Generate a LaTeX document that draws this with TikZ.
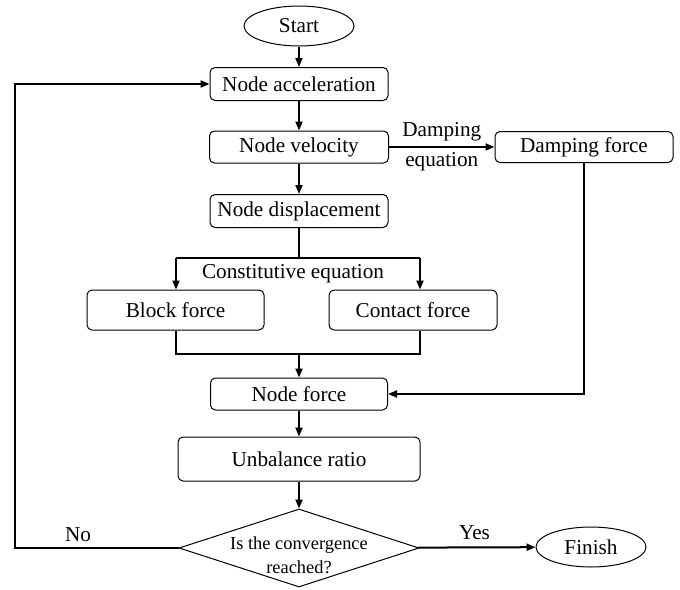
\documentclass[tikz,border=0pt]{standalone}
\usepackage{fontspec}
\setmainfont{Liberation Serif}
\usepackage{tikz}
\usetikzlibrary{arrows.meta,shapes.geometric}

\tikzset{
  box/.style={draw,rounded corners=2.5pt,line width=0.5pt,inner sep=0pt,font=\fontsize{10.6}{12}\selectfont},
  term/.style={draw,ellipse,line width=0.5pt,inner sep=0pt,minimum width=55pt,minimum height=20pt,font=\fontsize{10.6}{12}\selectfont},
  decision/.style={draw,diamond,line width=0.5pt,inner sep=0pt,shape aspect=3.08,minimum width=120pt,minimum height=39pt},
  flow/.style={line width=1pt,-{Triangle[length=4.5pt,width=3.5pt]}},
  link/.style={line width=1pt}
}

\begin{document}
\begin{tikzpicture}[x=0.5pt,y=-0.5pt]
		\useasboundingbox (0,0) rectangle (680,589);
		\node[term] (start) at (299,26) {Start};
		\node[box,minimum width=89pt,minimum height=16.5pt] (acc) at (299,84) {Node acceleration};
		\node[box,minimum width=89.5pt,minimum height=16pt] (vel) at (299,147) {Node velocity};
		\node[box,minimum width=89pt,minimum height=16.5pt] (disp) at (299,211) {Node displacement};
		\node[box,minimum width=89pt,minimum height=15.5pt] (damp) at (584,147) {Damping force};
		\node[box,minimum width=88.5pt,minimum height=20pt] (block) at (175.5,310) {Block force};
		\node[box,minimum width=84pt,minimum height=20pt] (contact) at (413,310) {Contact force};
		\node[box,minimum width=88.5pt,minimum height=16pt] (nforce) at (299,394) {Node force};
		\node[box,minimum width=121pt,minimum height=22pt] (unbal) at (299,459) {Unbalance ratio};
		\node[decision,label={[align=center,font=\fontsize{9.2}{12}\selectfont,yshift=-3.5pt]center:Is the convergence\\reached?}] (conv) at (299,548) {};
		\node[term] (finish) at (591,547) {Finish};
		%
		\coordinate (split) at (299,258);
		\coordinate (splitL) at (176,258);
		\coordinate (splitR) at (420,258);
		\coordinate (mergeL) at (176,354);
		\coordinate (mergeR) at (420,354);
		\coordinate (merge) at (299,354);
		\coordinate (dampC) at (584,394);
		\coordinate (loopB) at (15,548);
		\coordinate (loopT) at (15,84);
		%
		\path[font=\fontsize{10.6}{12}\selectfont]
		(start) edge[flow] (acc)
		(acc) edge[flow] (vel)
		(vel) edge[flow] (disp)
		(vel) edge[flow] node[above=-1pt]{Damping} node[below=-1pt]{equation} (damp)
		(merge) edge[flow] (nforce)
		(nforce) edge[flow] (unbal)
		(unbal) edge[flow] (conv)
		(conv) edge[flow] node[above,pos=0.48]{Yes} (finish);
		%
		\draw[link] (disp.south) -- (split);
		\draw[link] (splitL) -- (splitR);
		\draw[flow] (splitL) -- (splitL |- block.north);
		\draw[flow] (splitR) -- (splitR |- contact.north);
		\node[font=\fontsize{10.6}{12}\selectfont] (const) at (293,274) {Constitutive equation};
		\draw[link] (block.south -| mergeL) -- (mergeL) -- (mergeR) -- (contact.south -| mergeR);
		\draw[flow] (damp.south) -- (dampC) -- (nforce.east);
		\draw[flow] (conv.west) -- (loopB) -- (loopT) -- (acc.west);
		\node[font=\fontsize{10.6}{12}\selectfont] (no) at (78,535) {No};
\end{tikzpicture}
\end{document}
